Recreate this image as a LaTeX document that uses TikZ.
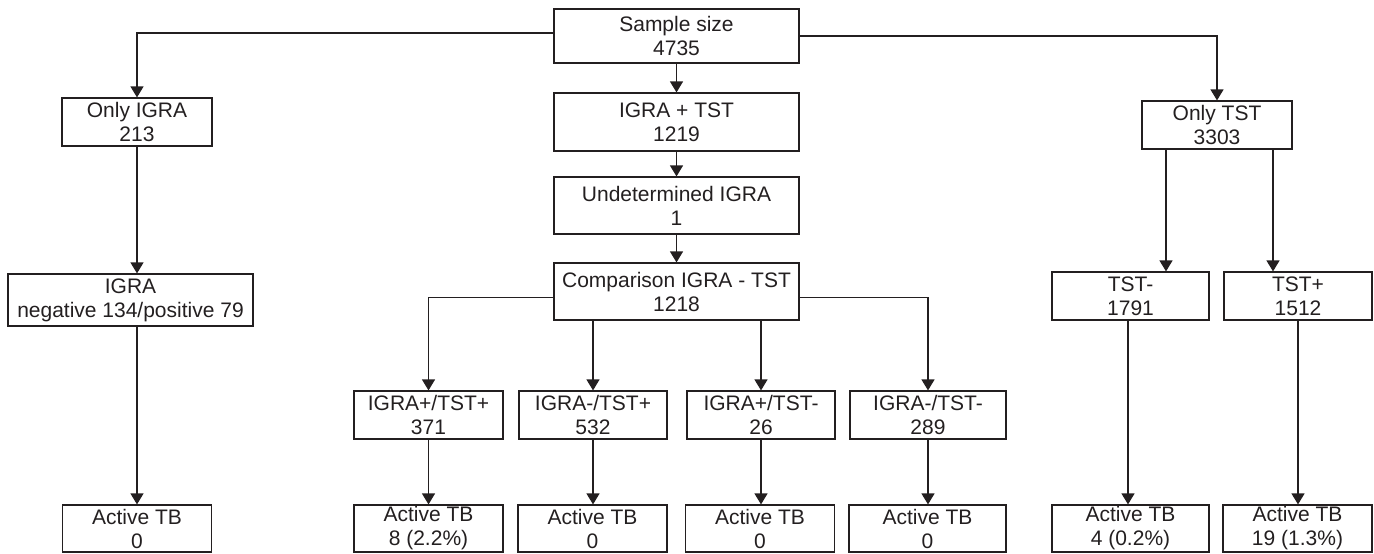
\documentclass[tikz,border=0pt]{standalone}
\usepackage{fontspec}
\setmainfont{Liberation Sans}
\usetikzlibrary{arrows.meta}
\definecolor{ink}{HTML}{231F20}
\begin{document}
\begin{tikzpicture}[x=0.5pt,y=-0.5pt,
  box/.style={draw=ink,text=ink,line width=0.6pt,rectangle,inner sep=0pt,align=center,
    font=\fontsize{10.5}{12}\selectfont},
  conn/.style={draw=ink,line width=0.6pt},
  arr/.style={conn,-{Triangle[length=5.5pt,width=6.5pt]}}]
\useasboundingbox (0,0) rectangle (1374,553);
% top level
\node[box,minimum width=122.5pt,minimum height=27pt] (sample) at (676.5,36) {Sample size\\4735};
\node[box,minimum width=75pt,minimum height=24pt] (onlyigra) at (137,122) {Only IGRA\\213};
\node[box,minimum width=122.5pt,minimum height=29pt] (igratst) at (676.5,122) {IGRA + TST\\1219};
\node[box,minimum width=75pt,minimum height=24pt] (onlytst) at (1217,125) {Only TST\\3303};
% middle
\node[box,minimum width=122.5pt,minimum height=28.5pt] (undet) at (676.5,205.5) {Undetermined IGRA\\1};
\node[box,minimum width=122.5pt,minimum height=28.5pt] (comp) at (676.5,291.5) {Comparison IGRA - TST\\1218};
\node[box,minimum width=122.5pt,minimum height=26pt] (igrares) at (130.5,300) {IGRA\\negative 134/positive 79};
\node[box,minimum width=78.5pt,minimum height=24pt] (tstneg) at (1130.5,296) {TST-\\1791};
\node[box,minimum width=74pt,minimum height=24pt] (tstpos) at (1298,296) {TST+\\1512};
% comparison groups
\node[box,minimum width=74.5pt,minimum height=24pt] (c1) at (428.5,415) {IGRA+/TST+\\371};
\node[box,minimum width=74pt,minimum height=24pt] (c2) at (593,415) {IGRA-/TST+\\532};
\node[box,minimum width=74pt,minimum height=24pt] (c3) at (761,415) {IGRA+/TST-\\26};
\node[box,minimum width=78pt,minimum height=24pt] (c4) at (928,415) {IGRA-/TST-\\289};
% active TB
\node[box,minimum width=74.5pt,minimum height=23.5pt] (a0) at (137,528.5) {Active TB\\0};
\node[box,minimum width=74.5pt,minimum height=23.5pt] (a1) at (428.5,528.5) {Active TB\\8 (2.2\%)};
\node[box,minimum width=74.5pt,minimum height=23.5pt] (a2) at (592.5,528.5) {Active TB\\0};
\node[box,minimum width=74.5pt,minimum height=23.5pt] (a3) at (760,528.5) {Active TB\\0};
\node[box,minimum width=78.5pt,minimum height=23.5pt] (a4) at (927.5,528.5) {Active TB\\0};
\node[box,minimum width=78.5pt,minimum height=23.5pt] (a5) at (1130.5,528.5) {Active TB\\4 (0.2\%)};
\node[box,minimum width=74.5pt,minimum height=23.5pt] (a6) at (1297.5,528.5) {Active TB\\19 (1.3\%)};
% helper x positions
\coordinate (x593) at (593,0);
\coordinate (x761) at (761,0);
\coordinate (x1166) at (1166,0);
\coordinate (x1273) at (1273,0);
\coordinate (x1128) at (1128,0);
% connectors
\draw[arr] ([yshift=1.5pt]sample.west) -| (onlyigra.north);
\draw[arr] (sample.east) -| (onlytst.north);
\draw[arr] (sample.south) -- (igratst.north);
\draw[arr] (igratst.south) -- (undet.north);
\draw[arr] (undet.south) -- (comp.north);
\draw[arr] (onlyigra.south) -- (igrares.north -| onlyigra.south);
\draw[arr] (igrares.south -| a0.north) -- (a0.north);
\draw[arr] ([yshift=-3pt]comp.west) -| (c1.north);
\draw[arr] ([yshift=-3pt]comp.east) -| (c4.north);
\draw[arr] (comp.south -| x593) -- (c2.north -| x593);
\draw[arr] (comp.south -| x761) -- (c3.north -| x761);
\draw[arr] (c1.south) -- (a1.north -| c1.south);
\draw[arr] (c2.south) -- (a2.north -| c2.south);
\draw[arr] (c3.south) -- (a3.north -| c3.south);
\draw[arr] (c4.south) -- (a4.north -| c4.south);
\draw[arr] (onlytst.south -| x1166) -- (tstneg.north -| x1166);
\draw[arr] (onlytst.south -| x1273) -- (tstpos.north -| x1273);
\draw[arr] (tstneg.south -| x1128) -- (a5.north -| x1128);
\draw[arr] (tstpos.south) -- (a6.north -| tstpos.south);
\end{tikzpicture}
\end{document}
